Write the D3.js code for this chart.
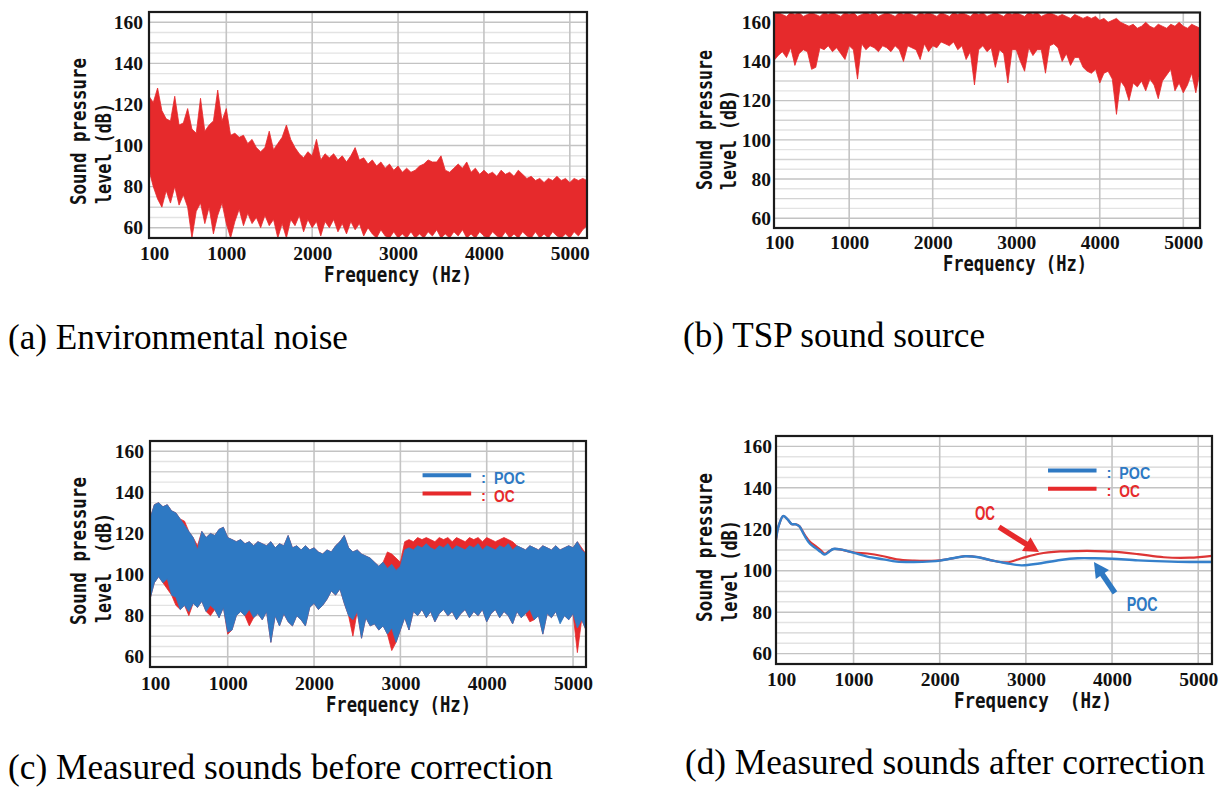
<!DOCTYPE html>
<html>
<head>
<meta charset="utf-8">
<script src="https://cdn.jsdelivr.net/npm/d3@7"></script>
<style>
  body { margin: 0; background: #fff; }
</style>
</head>
<body>
<div id="chart"></div>
<script>
// canvas
var width = 1223
var height = 788

// axis values shared by the four spectra
var xTicks = [100, 1000, 2000, 3000, 4000, 5000]
var yTicks = [60, 80, 100, 120, 140, 160]
var yDomain = [55, 165]

// 50 Hz frequency bins used for the measured (noisy) spectra
var bins = d3.range(100, 5201, 50)

// (a) environmental noise, upper / lower envelope per bin (dB)
var envHi = [124,121,128,117,113,112,124,110,111,118,
             108,106,123,107,110,112,127,112,118,105,
             106,104,105,101,103,99,97,99,107,98,
             101,104,110,103,99,96,94,97,95,103,
             93,96,94,96,93,95,92,95,99,93,
             94,91,93,90,92,89,91,88,90,87,
             89,87,88,90,91,93,92,92,95,88,
             87,89,91,89,92,87,89,86,88,86,
             87,85,88,86,87,85,88,86,84,85,
             83,84,82,84,83,85,83,84,82,84,
             83,84,83]
var envLo = [88,80,74,70,78,72,80,71,76,70,
             55,68,72,62,70,57,66,72,62,55,
             63,69,61,67,62,65,60,66,61,64,
             55,62,55,64,61,66,58,64,60,63,
             56,63,60,64,58,62,57,63,59,62,
             56,60,57,55,59,56,55,58,55,57,
             55,58,55,57,55,58,56,59,55,57,
             55,58,56,59,55,57,55,58,56,55,
             58,56,55,58,55,57,55,58,56,55,
             58,55,57,55,58,56,55,57,55,58,
             56,59,61]

// (b) TSP sound source
var tspHi = [164,165,164,163,165,164,165,163,164,165,
             164,163,165,164,165,164,163,165,164,165,
             163,164,165,164,165,163,164,165,164,163,
             165,164,165,164,163,165,164,165,164,163,
             165,164,163,165,164,165,164,163,165,164,
             165,163,164,165,164,163,165,164,165,164,
             163,165,164,165,163,164,165,164,163,164,
             163,162,164,163,162,163,162,163,161,162,
             160,161,162,160,159,158,159,157,158,160,
             158,157,159,158,157,159,158,160,158,157,
             159,158,157]
var tspLo = [140.5,143,145,142,147,138,144,146,145,136,
             137,147,146,148,145,147,144,141,148,146,
             131,149,146,148,147,145,148,147,145,148,
             146,140,148,147,146,141,149,145,148,147,
             150,149,148,150,146,148,141,145,128,146,
             148,145,147,137,146,144,129,146,146,140,
             135,147,143,146,146,134,148,149,147,140,
             144,138,142,142,137,135,134,136,129,134,
             135,131,113,130,127,120,129,127,130,125,
             131,128,121,130,133,136,125,129,124,128,
             134,124,135]

// (c) measured sounds before correction, POC (blue) and OC (red)
var pocHi = [127,134,135,133,134,131,130,127,124,121,
             118,112,121,118,120,119,122,123,118,117,
             116,117,115,116,114,116,115,114,116,113,
             115,114,119,113,114,112,114,112,113,111,
             110,112,111,114,116,119,113,111,112,110,
             109,108,106,104,106,103,105,102,104,112,
             113,112,114,113,115,113,112,114,113,115,
             112,114,113,112,114,113,115,112,114,113,
             112,114,113,115,112,114,113,112,114,113,
             112,114,113,112,114,112,113,114,113,116,
             112,110,110]
var pocLo = [88,96,99,96,98,90,89,83,85,82,
             86,84,87,82,85,83,79,84,72,73,
             80,82,80,83,79,81,78,82,67,80,
             75,81,77,75,80,78,75,84,86,83,
             85,88,92,90,93,86,80,78,82,69,
             79,75,76,73,75,71,74,67,73,79,
             73,82,80,83,79,82,77,81,83,80,
             82,78,81,83,79,82,80,83,77,81,
             83,79,82,80,76,82,79,81,83,78,
             80,71,81,79,82,76,80,78,81,74,
             78,73,73]
var ocHi = [127,134,135,133,134,131,130,127,126,121,
            118,114,121,118,120,119,122,123,118,117,
            116,117,115,116,114,116,115,114,116,113,
            115,114,119,113,114,112,114,112,113,111,
            110,112,111,114,116,119,113,111,112,110,
            109,108,106,104,106,111,110,108,106,116,
            117,116,118,117,118,117,116,118,117,118,
            116,118,117,116,118,117,118,116,118,117,
            116,117,118,117,116,114,113,112,114,113,
            112,114,113,112,114,112,113,114,113,116,
            113,110,110]
var ocLo = [88,96,99,96,93,90,85,83,85,80,
            86,84,87,82,80,83,79,84,71,73,
            80,82,80,75,79,81,78,82,67,80,
            75,81,77,75,80,78,75,84,86,83,
            85,88,92,90,93,86,80,70,82,69,
            79,75,76,73,75,71,63,67,73,79,
            73,82,80,83,79,82,77,81,83,80,
            82,78,81,83,79,82,80,83,77,81,
            83,79,82,80,76,82,79,81,77,78,
            80,71,81,79,82,77,80,78,81,62,
            78,73,73]

// (d) measured sounds after correction (smoothed curves)
var freqD = [100,130,185,240,282,330,370,430,494,564,
             620,668,720,765,842,1005,1160,1345,1500,1700,
             1900,2003,2150,2293,2450,2600,2776,2950,3155,3400,
             3600,3800,4000,4300,4600,4900,5160]
var pocD = [115,121.5,126.4,124.5,122.5,122.4,121.5,117,113,110.8,
            109,107.8,109.3,110.5,110.3,108.6,106.8,105.5,104.4,104.2,
            104.5,104.9,106,107,106.5,105,103.6,102.6,103.5,105.2,
            106,106,105.8,105,104.5,104.2,104.2]
var ocD = [115,121.5,126.4,124.5,122.5,122.4,121.5,117.5,114,111.8,
           109.8,108.2,109.5,110.5,110.3,108.8,108.3,107,105.5,104.9,
           104.8,105,106,107,106.5,105,104,106,108.2,109.3,
           109.5,109.5,109.2,108,106.5,106.3,107.2]

var RED = "#e62a2c"
var BLUE = "#2e79c3"
var serif = "'Liberation Serif', 'Times New Roman', serif"
var mono = "'DejaVu Sans Mono', monospace"
var sans = "'Liberation Sans', Arial, sans-serif"

var svg = d3.select("#chart")
  .append("svg")
  .attr("width", width)
  .attr("height", height)

// panel layouts
var panels = [
  { id: "a", xDomain: [100, 5200], xRange: [149, 587], yRange: [238, 12], xPad: 8, yGap: 6,
    xTitle: "Frequency (Hz)", xTitleX: 324, xTitleLen: 148, xTitleY: 282,
    yTitle: [{ t: "Sound pressure", b: 86, s: 205, len: 147 }, { t: "level (dB)", b: 111, s: 204, len: 101 }],
    caption: "(a) Environmental noise", capX: 8, capY: 349, capLen: 340 },
  { id: "b", xDomain: [100, 5200], xRange: [774, 1200], yRange: [228, 12.5], xPad: 7, yGap: 3,
    xTitle: "Frequency (Hz)", xTitleX: 943, xTitleLen: 144, xTitleY: 271,
    yTitle: [{ t: "Sound pressure", b: 712, s: 190, len: 140 }, { t: "level (dB)", b: 736, s: 190, len: 100 }],
    caption: "(b) TSP sound source", capX: 683, capY: 347, capLen: 302 },
  { id: "c", xDomain: [100, 5150], xRange: [150, 586], yRange: [667, 441], xPad: 9, yGap: 6,
    xTitle: "Frequency (Hz)", xTitleX: 326, xTitleLen: 145, xTitleY: 712,
    yTitle: [{ t: "Sound pressure", b: 86, s: 625, len: 148 }, { t: "level  (dB)", b: 111, s: 623, len: 110 }],
    caption: "(c) Measured sounds before correction", capX: 8, capY: 779, capLen: 545 },
  { id: "d", xDomain: [100, 5160], xRange: [776, 1212], yRange: [664, 436], xPad: 8, yGap: 4,
    xTitle: "Frequency  (Hz)", xTitleX: 954, xTitleLen: 158, xTitleY: 708,
    yTitle: [{ t: "Sound pressure", b: 712, s: 622, len: 149 }, { t: "level (dB)", b: 737, s: 622, len: 102 }],
    caption: "(d) Measured sounds after correction", capX: 685, capY: 774, capLen: 520 }
]

// draw grid, axes, titles and frame; returns the scales and the clipped plot group
function drawPanel(p) {
  var x = d3.scaleLinear().domain(p.xDomain).range(p.xRange)
  var y = d3.scaleLinear().domain(yDomain).range(p.yRange)
  var x0 = p.xRange[0], x1 = p.xRange[1], yTop = p.yRange[1], yBot = p.yRange[0]
  var g = svg.append("g")

  svg.append("clipPath").attr("id", "clip_" + p.id)
    .append("rect")
    .attr("x", x0).attr("y", yTop)
    .attr("width", x1 - x0).attr("height", yBot - yTop)

  // horizontal grid every 5 dB
  g.append("g").selectAll("line")
    .data(d3.range(60, 161, 5))
    .enter().append("line")
    .attr("x1", x0).attr("x2", x1)
    .attr("y1", function(d) { return y(d) })
    .attr("y2", function(d) { return y(d) })
    .attr("stroke", function(d) { return d % 20 == 0 ? "#c3c3c3" : (d % 10 == 0 ? "#d3d3d3" : "#e3e3e3") })
    .attr("stroke-width", 1.4)

  // vertical grid at the labelled frequencies
  g.append("g").selectAll("line")
    .data(xTicks.slice(1))
    .enter().append("line")
    .attr("x1", function(d) { return x(d) })
    .attr("x2", function(d) { return x(d) })
    .attr("y1", yTop).attr("y2", yBot)
    .attr("stroke", "#c4c4c4")
    .attr("stroke-width", 1.6)

  var plot = g.append("g").attr("clip-path", "url(#clip_" + p.id + ")")

  // frame
  g.append("rect")
    .attr("x", x0).attr("y", yTop)
    .attr("width", x1 - x0).attr("height", yBot - yTop)
    .attr("fill", "none")
    .attr("stroke", "#1b1b1b")
    .attr("stroke-width", 2.2)

  // x axis labels
  var ax = g.append("g")
    .attr("transform", "translate(0," + yBot + ")")
    .call(d3.axisBottom(x).tickValues(xTicks).tickSize(0).tickPadding(p.xPad).tickFormat(d3.format("d")))
  ax.select(".domain").remove()
  ax.selectAll("text")
    .attr("font-family", serif)
    .attr("font-size", 19.5)
    .attr("font-weight", "bold")
    .attr("fill", "#111")
    .attr("dx", function(d) { return d == 100 ? 5 : 0 })

  // y axis labels
  var ay = g.append("g")
    .attr("transform", "translate(" + (x0 - p.yGap) + ",0)")
    .call(d3.axisLeft(y).tickValues(yTicks).tickSize(0).tickPadding(0))
  ay.select(".domain").remove()
  ay.selectAll("text")
    .attr("font-family", serif)
    .attr("font-size", 19.5)
    .attr("font-weight", "bold")
    .attr("fill", "#111")

  // axis titles
  g.append("text")
    .attr("x", p.xTitleX).attr("y", p.xTitleY)
    .attr("textLength", p.xTitleLen).attr("lengthAdjust", "spacingAndGlyphs")
    .attr("font-family", mono).attr("font-size", 21).attr("font-weight", "bold")
    .attr("fill", "#111")
    .style("white-space", "pre")
    .text(p.xTitle)

  p.yTitle.forEach(function(t) {
    g.append("text")
      .attr("transform", "translate(" + t.b + "," + t.s + ") rotate(-90)")
      .attr("textLength", t.len).attr("lengthAdjust", "spacingAndGlyphs")
      .attr("font-family", mono).attr("font-size", 21).attr("font-weight", "bold")
      .attr("fill", "#111")
      .style("white-space", "pre")
      .text(t.t)
  })

  // caption under the panel
  svg.append("text")
    .attr("x", p.capX).attr("y", p.capY)
    .attr("textLength", p.capLen).attr("lengthAdjust", "spacingAndGlyphs")
    .attr("font-family", serif).attr("font-size", 35)
    .attr("fill", "#000")
    .text(p.caption)

  return { x: x, y: y, g: g, plot: plot }
}

// dense spectrum drawn as the band between its per-bin envelopes
function drawBand(ctx, hi, lo, color) {
  var rows = bins.map(function(f, i) { return { f: f, hi: hi[i], lo: lo[i] } })
  var area = d3.area()
    .x(function(d) { return ctx.x(d.f) })
    .y0(function(d) { return ctx.y(d.lo) })
    .y1(function(d) { return ctx.y(d.hi) })
  ctx.plot.append("path")
    .datum(rows)
    .attr("d", area)
    .attr("fill", color)
    .attr("stroke", color)
    .attr("stroke-width", 0.8)
    .attr("stroke-linejoin", "bevel")
}

// legend: coloured line, colon, series name
function drawLegend(ctx) {
  var items = [{ name: "POC", color: BLUE, v: 148.3, tv: 144.2 }, { name: "OC", color: RED, v: 139.5, tv: 135.5 }]
  items.forEach(function(it) {
    ctx.g.append("line")
      .attr("x1", ctx.x(3257)).attr("x2", ctx.x(3820))
      .attr("y1", ctx.y(it.v)).attr("y2", ctx.y(it.v))
      .attr("stroke", it.color).attr("stroke-width", 4)
    ctx.g.append("text")
      .attr("x", ctx.x(3935)).attr("y", ctx.y(it.tv) - 1)
      .attr("font-family", sans).attr("font-size", 15).attr("font-weight", "bold")
      .attr("fill", it.color)
      .text(":")
    ctx.g.append("text")
      .attr("x", ctx.x(4085)).attr("y", ctx.y(it.tv))
      .attr("textLength", it.name.length * 10.3).attr("lengthAdjust", "spacingAndGlyphs")
      .attr("font-family", sans).attr("font-size", 16).attr("font-weight", "bold")
      .attr("fill", it.color)
      .text(it.name)
  })
}

function drawArrow(ctx, f1, v1, f2, v2, color) {
  var xa = ctx.x(f1), ya = ctx.y(v1), xb = ctx.x(f2), yb = ctx.y(v2)
  var dx = xb - xa, dy = yb - ya, len = Math.sqrt(dx * dx + dy * dy)
  var ux = dx / len, uy = dy / len
  var head = 15, half = 8
  ctx.g.append("line")
    .attr("x1", xa).attr("y1", ya)
    .attr("x2", xb - ux * (head - 2)).attr("y2", yb - uy * (head - 2))
    .attr("stroke", color).attr("stroke-width", 5.5)
  var bx = xb - ux * head, by = yb - uy * head
  ctx.g.append("polygon")
    .attr("points", [[xb, yb], [bx - uy * half, by + ux * half], [bx + uy * half, by - ux * half]].map(function(p) { return p.join(",") }).join(" "))
    .attr("fill", color)
}

// (a)
var pa = drawPanel(panels[0])
drawBand(pa, envHi, envLo, RED)

// (b)
var pb = drawPanel(panels[1])
drawBand(pb, tspHi, tspLo, RED)

// (c)
var pc = drawPanel(panels[2])
drawBand(pc, ocHi, ocLo, RED)
drawBand(pc, pocHi, pocLo, BLUE)
drawLegend(pc)

// (d)
var pd = drawPanel(panels[3])
var curve = function(vals) {
  return d3.line()
    .x(function(d, i) { return pd.x(freqD[i]) })
    .y(function(d) { return pd.y(d) })
    .curve(d3.curveCatmullRom.alpha(0.5))(vals)
}
pd.plot.append("path").attr("d", curve(ocD)).attr("fill", "none").attr("stroke", "#dd3535").attr("stroke-width", 2.2)
pd.plot.append("path").attr("d", curve(pocD)).attr("fill", "none").attr("stroke", "#3580cb").attr("stroke-width", 2.4)
drawLegend(pd)

pd.g.append("text")
  .attr("x", pd.x(2409)).attr("y", pd.y(124.5))
  .attr("textLength", 20).attr("lengthAdjust", "spacingAndGlyphs")
  .attr("font-family", sans).attr("font-size", 20).attr("font-weight", "bold")
  .attr("fill", RED).text("OC")
pd.g.append("text")
  .attr("x", pd.x(4170)).attr("y", pd.y(80.7))
  .attr("textLength", 31).attr("lengthAdjust", "spacingAndGlyphs")
  .attr("font-family", sans).attr("font-size", 20).attr("font-weight", "bold")
  .attr("fill", BLUE).text("POC")
drawArrow(pd, 2688, 121.1, 3152, 109.0, RED)
drawArrow(pd, 4034, 89.3, 3790, 104.2, BLUE)
</script>
</body>
</html>
